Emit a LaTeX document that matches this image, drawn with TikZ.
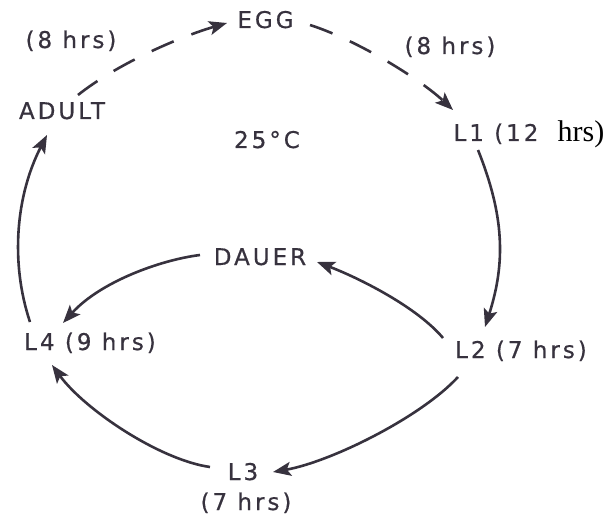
\documentclass[tikz,border=0pt]{standalone}
\usepackage{fontspec}
\newfontfamily\lab[LetterSpace=13,FakeBold=0.6]{DejaVu Sans}
\newfontfamily\tms{Liberation Serif}
\usetikzlibrary{arrows.meta}
\definecolor{ink}{RGB}{55,50,62}
\begin{document}
\begin{tikzpicture}[x=1pt,y=-1pt,
  lbl/.style={font=\lab\fontsize{23}{26}\selectfont, text=ink, inner sep=0pt, anchor=base},
  conn/.style={line width=2.6pt, draw=ink, -{Stealth[length=18pt,width=14pt,inset=4pt]}},
  dsh/.style={conn, dash pattern=on 24pt off 19pt}]
\useasboundingbox (0,0) rectangle (609,518);
% labels
\node[lbl] (egg) at (265.5,28) {EGG};
\node[lbl] (adult) at (62,119) {ADULT};
\node[lbl] (temp) at (267,148) {25°C};
\node[lbl] (t8a) at (71,48) {(8 hrs)};
\node[lbl] (t8b) at (450,54) {(8 hrs)};
\node[lbl] (l1) at (496,141) {L1 (12};
\node[font=\tms\fontsize{30}{32}\selectfont, inner sep=0pt, anchor=base] (l1h) at (581,142) {hrs)};
\node[lbl] (dauer) at (260,265) {DAUER};
\node[lbl] (l4) at (90,350) {L4 (9 hrs)};
\node[lbl] (l2) at (521,358) {L2 (7 hrs)};
\node[lbl] (l3) at (243,480) {L3};
\node[lbl] (t7) at (246,510) {(7 hrs)};
% connectors
\draw[dsh] ([shift={(16,-24)}]adult.base) .. controls (117,64) and (179,37) .. ([shift={(-38.5,-5)}]egg.base);
\draw[dsh] ([shift={(44.5,-3)}]egg.base) .. controls (357,40) and (420,79) .. ([shift={(-43,-31)}]l1.base);
\draw[conn] ([shift={(-18,9)}]l1.base) .. controls (504,215) and (506,262) .. ([shift={(-36,-31)}]l2.base);
\draw[conn] ([shift={(-78,-20)}]l2.base) .. controls (417,307) and (359,278) .. ([shift={(57,-3)}]dauer.base);
\draw[conn] ([shift={(-60,-10)}]dauer.base) .. controls (160,260) and (100,282) .. ([shift={(-27,-27)}]l4.base);
\draw[conn] ([shift={(-63,19)}]l2.base) .. controls (420,418) and (330,462) .. ([shift={(30,-8)}]l3.base);
\draw[conn] ([shift={(-33,-13)}]l3.base) .. controls (160,460) and (85,410) .. ([shift={(-38,15)}]l4.base);
\draw[conn] ([shift={(-60,-28)}]l4.base) .. controls (10,262) and (16,195) .. ([shift={(-15,16)}]adult.base);
\end{tikzpicture}
\end{document}
